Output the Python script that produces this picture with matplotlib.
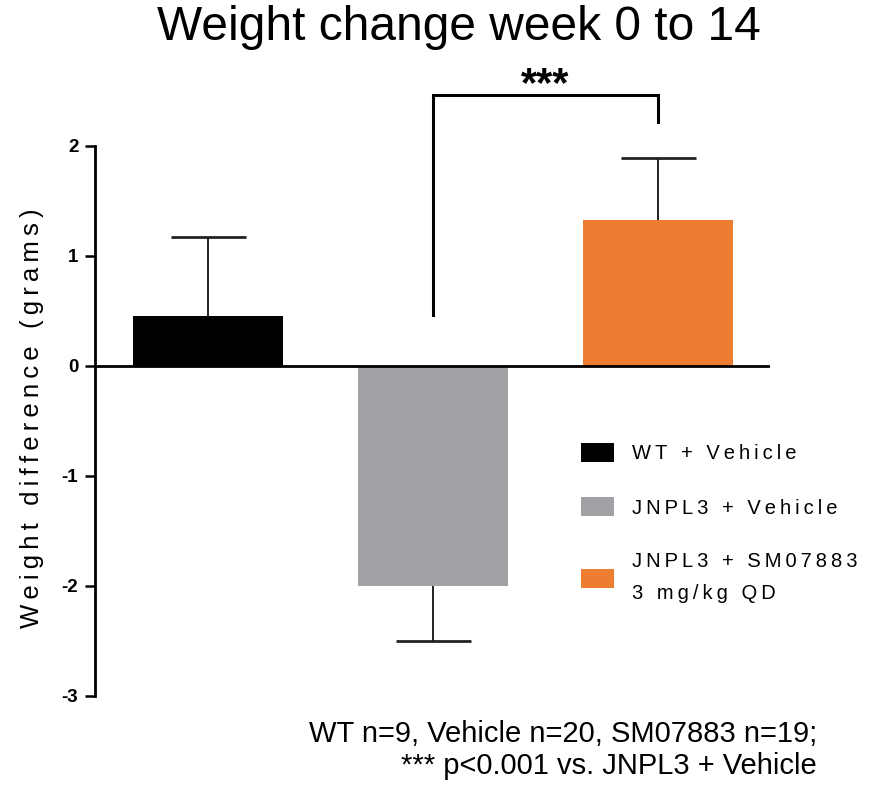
import matplotlib
matplotlib.use("Agg")
import matplotlib.pyplot as plt

plt.rcParams['font.family'] = ['Liberation Sans', 'DejaVu Sans']

# data
groups = ['WT + Vehicle', 'JNPL3 + Vehicle', 'JNPL3 + SM07883\n3 mg/kg QD']
means = [0.455, -2.0, 1.327]
sems = [0.72, 0.50, 0.56]
colors = ['#000000', '#a2a1a6', '#ed7d31']
yticks = [-3, -2, -1, 0, 1, 2]


def spaced(s):
    # the original uses wide letter spacing; mimic it with thin spaces
    return '\n'.join('\u2009'.join(line) for line in s.split('\n'))


fig = plt.figure(figsize=(8.84, 7.86), dpi=100)
ax = fig.add_axes([95/884, 90/786, 675/884, 636/786])

x = list(range(len(groups)))
for i in x:
    m = means[i]
    # one-sided error bar (away from zero)
    err = [[0], [sems[i]]] if m >= 0 else [[sems[i]], [0]]
    _, caps, _ = ax.errorbar(i, m, yerr=err, fmt='none', ecolor='#222222',
                             elinewidth=1.4, capsize=27, capthick=2, zorder=1)
    caps[0 if m >= 0 else 1].set_visible(False)
    ax.bar(i, m, width=0.667, color=colors[i], label=spaced(groups[i]), zorder=2)

ax.axhline(0, color='black', lw=2, zorder=3)

# significance bracket between JNPL3 + Vehicle and SM07883
ax.plot([1, 1, 2, 2], [0.46, 2.46, 2.46, 2.22], color='black', lw=2.2,
        solid_joinstyle='miter', clip_on=False)
ax.text(1.5, 2.45, '***', ha='center', va='baseline', fontsize=30,
        fontweight='bold')

ax.set_xlim(-0.502, 2.498)
ax.set_ylim(-3, 306/110)
ax.set_yticks(yticks)
ax.set_yticklabels([str(t) for t in yticks], fontsize=13.5, fontweight='bold')
ax.tick_params(axis='y', length=7, width=1.8, pad=5, direction='out')
ax.set_xticks([])
for s in ['top', 'right', 'bottom']:
    ax.spines[s].set_visible(False)
ax.spines['left'].set_linewidth(2)
ax.spines['left'].set_bounds(-3, 2)

ax.set_ylabel(spaced('Weight difference (grams)'), fontsize=18.5, va='center')
ax.yaxis.set_label_coords(-0.093, (696 - 418) / 636)

leg = ax.legend(loc='upper left', bbox_to_anchor=(581/884, 1 - 443/786),
                bbox_transform=fig.transFigure, frameon=False, fontsize=14.5,
                handlelength=1.65, handleheight=1.05, handletextpad=0.9,
                labelspacing=1.7, borderpad=0, borderaxespad=0)
for t in leg.get_texts():
    t.set_linespacing(1.9)

fig.text(459/884, 1 - 27/786, 'Weight change week 0 to 14', ha='center',
         va='center', fontsize=34.5)
fig.text(817/884, 1 - 750/786, 'WT n=9, Vehicle n=20, SM07883 n=19;\n'
         '*** p<0.001 vs. JNPL3 + Vehicle', ha='right', va='center',
         fontsize=21, multialignment='right', linespacing=1.15)

fig.savefig('out.png', dpi=100)
